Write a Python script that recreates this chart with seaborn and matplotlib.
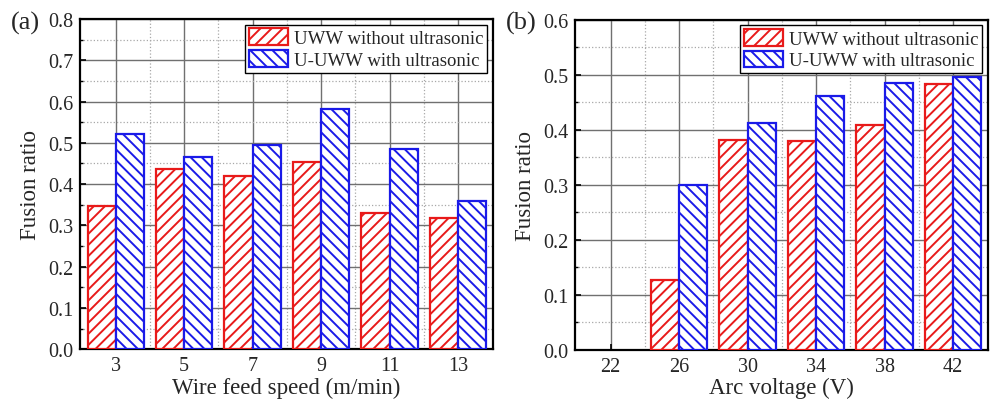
import numpy as np
import pandas as pd
import seaborn as sns
import matplotlib
matplotlib.use('Agg')
import matplotlib.pyplot as plt
from matplotlib.patches import Patch
from matplotlib.ticker import MultipleLocator, FormatStrFormatter

# data
wire_speed = ['3', '5', '7', '9', '11', '13']
uww_speed = [0.347, 0.437, 0.420, 0.453, 0.331, 0.319]
uuww_speed = [0.522, 0.466, 0.496, 0.581, 0.486, 0.359]

arc_voltage = ['22', '26', '30', '34', '38', '42']
uww_voltage = [np.nan, 0.127, 0.381, 0.380, 0.408, 0.483]
uuww_voltage = [np.nan, 0.300, 0.412, 0.462, 0.484, 0.495]

series_names = ['UWW without ultrasonic', 'U-UWW with ultrasonic']
colors = {'UWW without ultrasonic': '#e81a1a', 'U-UWW with ultrasonic': '#1a1ae8'}
hatches = {'UWW without ultrasonic': '///', 'U-UWW with ultrasonic': '\\\\\\'}

sns.set_style('ticks')
plt.rcParams['font.family'] = ['Liberation Serif', 'DejaVu Serif']
plt.rcParams['hatch.linewidth'] = 1.4


def make_df(cats, a, b):
    df = pd.DataFrame({'cat': cats * 2,
                       'val': list(a) + list(b),
                       'series': [series_names[0]] * len(cats) + [series_names[1]] * len(cats)})
    return df.dropna()


def draw_panel(ax, cats, a, b, ymax, xlabel):
    df = make_df(cats, a, b)
    sns.barplot(data=df, x='cat', y='val', hue='series', order=cats,
                hue_order=series_names, palette=colors, fill=False,
                width=0.82, gap=0, linewidth=1.6, ax=ax, legend=False)
    for cont, name in zip(ax.containers, series_names):
        for p in cont:
            p.set_hatch(hatches[name])
            p.set_edgecolor(colors[name])
            p.set_facecolor('white')
            p.set_zorder(3)

    ax.set_xlim(-0.52, len(cats) - 0.49)
    ax.set_ylim(0, ymax)
    ax.yaxis.set_major_locator(MultipleLocator(0.1))
    ax.yaxis.set_minor_locator(MultipleLocator(0.05))
    ax.yaxis.set_major_formatter(FormatStrFormatter('%.1f'))
    ax.set_xticks(np.arange(0.5, len(cats) - 1), minor=True)

    ax.grid(True, which='major', color='#707070', linewidth=1.0, linestyle='-', zorder=0)
    ax.grid(True, which='minor', color='#a8a8a8', linewidth=0.9, linestyle=':', zorder=0)
    ax.set_axisbelow(True)

    for s in ax.spines.values():
        s.set_visible(True)
        s.set_color('black')
        s.set_linewidth(1.6)
    ax.tick_params(which='both', direction='in', labelsize=14.5, color='black')
    ax.tick_params(which='major', length=4, width=1.2, pad=5)
    ax.tick_params(which='minor', length=2.5, width=1.0)
    ax.tick_params(axis='x', which='minor', length=0)

    ax.set_xlabel(xlabel, fontsize=16.5, labelpad=1)
    ax.set_ylabel('Fusion ratio', fontsize=16.5, labelpad=5)

    handles = [Patch(facecolor='white', edgecolor=colors[n], hatch=hatches[n], linewidth=1.6)
               for n in series_names]
    leg = ax.legend(handles, series_names, loc='upper right', fontsize=13.5,
                    frameon=True, fancybox=False, edgecolor='black', framealpha=1,
                    handlelength=2.1, handleheight=1.0, handletextpad=0.3,
                    borderpad=0.2, labelspacing=0.15, borderaxespad=0.3)
    leg.get_frame().set_linewidth(1.0)


fig = plt.figure(figsize=(9.91, 4.02), dpi=100)
ax1 = fig.add_axes([0.0807, 0.129, 0.4167, 0.821])
ax2 = fig.add_axes([0.5802, 0.127, 0.4167, 0.822])

draw_panel(ax1, wire_speed, uww_speed, uuww_speed, 0.8, 'Wire feed speed (m/min)')
draw_panel(ax2, arc_voltage, uww_voltage, uuww_voltage, 0.6, 'Arc voltage (V)')

fig.text(0.011, 0.942, '(a)', fontsize=19, ha='left', va='center')
fig.text(0.510, 0.942, '(b)', fontsize=19, ha='left', va='center')

fig.savefig('out.png', dpi=100, facecolor='white')
